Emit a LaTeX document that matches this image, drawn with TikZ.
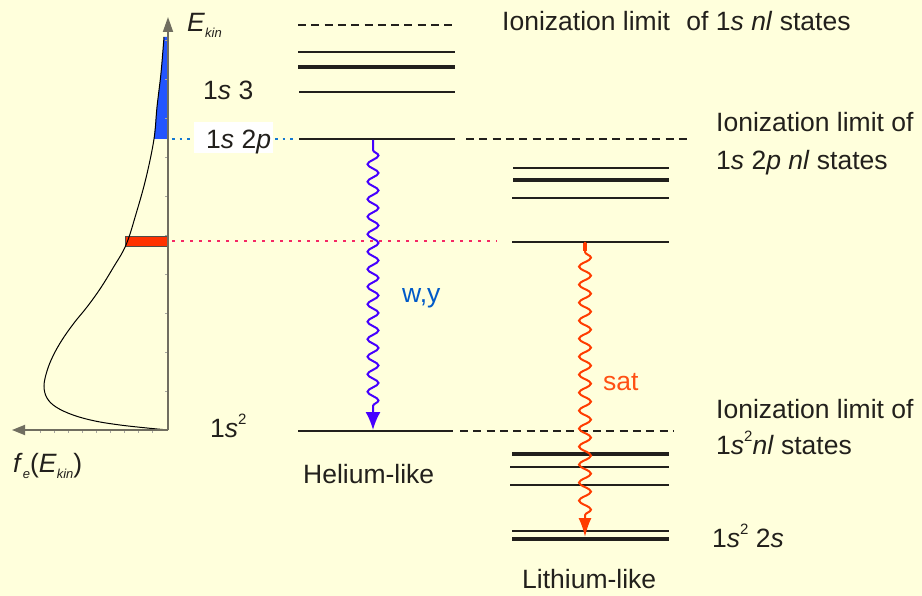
\documentclass[tikz,border=0pt]{standalone}
\usepackage{fontspec}
\setmainfont{Liberation Sans}
\usetikzlibrary{decorations.pathmorphing,arrows.meta}
\definecolor{bg}{RGB}{255,255,220}
\definecolor{ink}{RGB}{34,32,28}
\definecolor{axisgray}{RGB}{112,110,96}
\definecolor{fillblue}{RGB}{35,85,255}
\definecolor{fillred}{RGB}{255,50,0}
\definecolor{dotblue}{RGB}{20,120,210}
\definecolor{dotpink}{RGB}{245,40,100}
\definecolor{wavblue}{RGB}{70,0,255}
\definecolor{wavred}{RGB}{255,60,0}
\definecolor{txtblue}{RGB}{0,90,200}
\definecolor{txtred}{RGB}{255,80,20}
\begin{document}
\begin{tikzpicture}[x=1pt,y=-1pt,
  lbl/.style={inner sep=0pt,anchor=base west,text=ink,font=\fontsize{26.5}{30}\selectfont},
  lvl/.style={draw=ink,line width=2pt},
  lvlthick/.style={draw=ink,line width=4pt},
  limit/.style={draw=ink,line width=2pt,dash pattern=on 8pt off 5.3pt},
  axisline/.style={draw=axisgray,line width=1.8pt},
  wave/.style={line width=2pt,decorate,decoration={snake,amplitude=5.5pt,segment length=17.5pt,pre length=10pt,post length=16pt}}]
\fill[bg] (0,0) rectangle (922,596);
\useasboundingbox (0,0) rectangle (922,596);

% distribution
\fill[fillblue] (168,37) -- plot[smooth,tension=0.6] coordinates {(164,37) (161,73) (157,107) (154,139)} -- (168,139) -- cycle;
\draw[fill=fillred,draw=ink!80,line width=1pt] (125.5,237) rectangle (168,247);
\draw[black,line width=1pt] plot[smooth,tension=0.6] coordinates {(164,37) (161,73) (157,107) (154,139) (146,178) (136,214) (126,245) (113,268) (100,289) (87,307) (74,323) (62,340) (53,356) (47,371) (44,386) (47,398) (56,407) (73,415) (95,421) (120,425) (147,428) (168,430)};
\foreach \t in {40,79,118,157,196,235,274,313,352,391} \draw[axisgray!60,line width=0.8pt] (165,\t) -- (168,\t);
\foreach \t in {40,54,68,82,96,110,124,138,152} \draw[axisgray!60,line width=0.8pt] (\t,430) -- (\t,433);
\coordinate (origin) at (168,430);
\coordinate (ytip) at (168,17);
\coordinate (xtip) at (12,430);
\draw[axisline,-{Triangle[length=15pt,width=10pt]}] (origin) -- (ytip);
\draw[axisline,-{Triangle[length=13pt,width=10pt]}] (origin) -- (xtip);
\node[lbl] (ekin) at (187,32) {\textit{E}\raisebox{-6pt}{\fontsize{13}{15}\selectfont\textit{kin}}};
\node[lbl] (fe) at (13,472) {\textit{f}\raisebox{-6pt}{\fontsize{13}{15}\selectfont\textit{e}}(\textit{E}\raisebox{-6pt}{\fontsize{13}{15}\selectfont\textit{kin}})};

% dotted guides
\draw[dotblue,line width=2.5pt,dash pattern=on 2.5pt off 5pt] (172,139) -- (194,139);
\draw[dotblue,line width=2.5pt,dash pattern=on 2.5pt off 5pt] (275,139) -- (297,139);
\draw[dotpink,line width=2.5pt,dash pattern=on 3pt off 6pt] (172,241) -- (497,241);

% helium-like levels
\draw[limit] (298,25) -- (455,25);
\draw[lvl] (298,52) -- (455,52);
\draw[lvlthick] (298,67) -- (455,67);
\draw[lvl] (299,92) -- (455,92);
\draw[lvl] (299,139.5) -- (455,139.5);
\draw[limit] (466,139.5) -- (687,139.5);
\draw[lvl] (298,430.5) -- (453,430.5);
\draw[limit] (460,430.5) -- (673,430.5);

% lithium-like levels
\draw[lvl] (513,168) -- (669,168);
\draw[lvlthick] (513,180) -- (669,180);
\draw[lvl] (512,198) -- (669,198);
\draw[lvl] (512,242) -- (669,242);
\draw[lvlthick] (512,454) -- (669,454);
\draw[lvl] (510,467) -- (669,467);
\draw[lvl] (510,485) -- (669,485);
\draw[lvl] (512,531) -- (669,531);
\draw[lvlthick] (512,539) -- (669,539);

% transitions
\coordinate (wtop) at (373,140);
\coordinate (wbot) at (373,430);
\coordinate (stop) at (585,242);
\coordinate (sbot) at (585,537);
\draw[wavblue,wave,-{Latex[length=18pt,width=15pt]}] (wtop) -- (wbot);
\draw[wavred,line width=4pt] (585,243) -- (585,251);
\draw[wavred,wave,decoration={segment length=18pt,amplitude=6pt},-{Latex[length=19pt,width=13pt]}] (stop) -- (sbot);
\node[lbl,text=txtblue] (wy) at (402,303) {w,y};
\node[lbl,text=txtred] (sat) at (603,390) {sat};

% labels
\node[lbl] (ion1) at (502,31) {Ionization limit\hspace{9pt} of 1\textit{s} \textit{nl} states};
\node[lbl] (ion2a) at (716,132) {Ionization limit of};
\node[lbl] (ion2b) at (716,170) {1\textit{s} 2\textit{p} \textit{nl} states};
\node[lbl] (ion3a) at (716,418) {Ionization limit of};
\node[lbl] (ion3b) at (716,454) {1\textit{s}\raisebox{13pt}{\fontsize{15}{17}\selectfont 2}\textit{nl} states};
\node[lbl] (gs) at (712,547) {1\textit{s}\raisebox{13pt}{\fontsize{15}{17}\selectfont 2} 2\textit{s}};
\node[lbl] (s3) at (203,100) {1\textit{s} 3};
\fill[white] (194,122) rectangle (273,153);
\node[lbl] (s2p) at (206,149) {1\textit{s} 2\textit{p}};
\node[lbl] (s2) at (210,437) {1\textit{s}\raisebox{13pt}{\fontsize{15}{17}\selectfont 2}};
\node[lbl] (he) at (303,483) {Helium-like};
\node[lbl] (li) at (522,588) {Lithium-like};
\end{tikzpicture}
\end{document}
